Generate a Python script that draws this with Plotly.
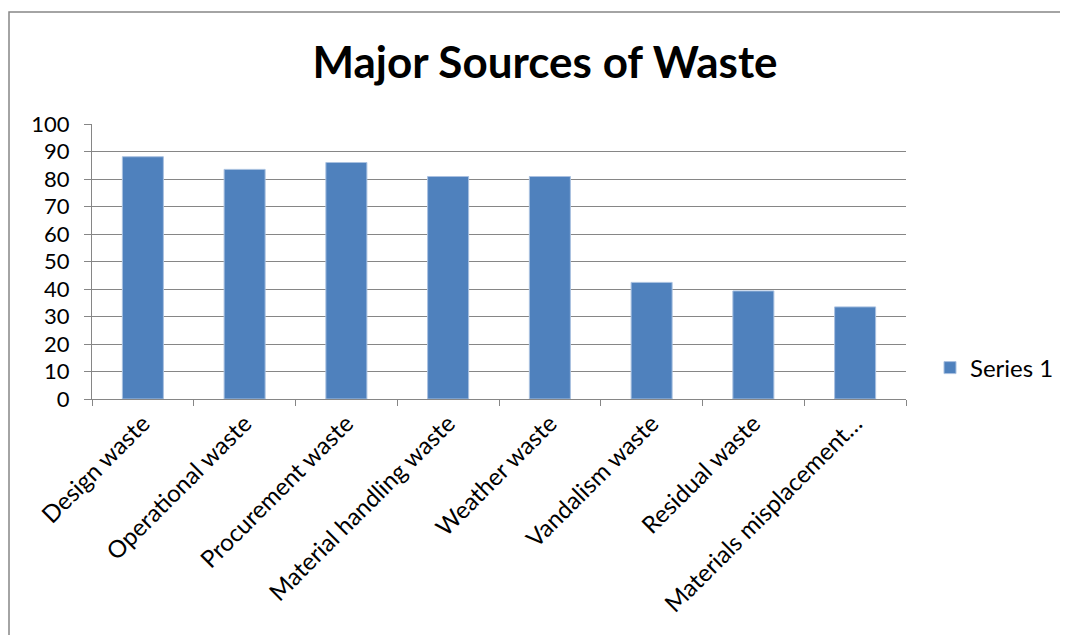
import plotly.graph_objects as go

categories = ["Design waste", "Operational waste", "Procurement waste",
              "Material handling waste", "Weather waste", "Vandalism waste",
              "Residual waste", "Materials misplacement…"]
values = [88.1, 83.5, 86.0, 80.9, 80.9, 42.4, 39.3, 33.5]
series_name = "Series 1"
y_ticks = list(range(0, 101, 10))

# the page has an 8px body margin, so positions are shifted by -8
OFF = 8
W, H = 1068, 635
L, R, T, B = 92 - OFF, 906 - OFF, 124 - OFF, 399 - OFF

fig = go.Figure()
fig.add_trace(go.Bar(
    x=categories, y=values, name=series_name,
    marker=dict(color="#4F81BD", line=dict(color="#A9C1E0", width=1)),
    showlegend=True,
))

grey = "#868686"
font_family = "Lato, 'Open Sans', sans-serif"

fig.update_layout(
    width=W, height=H,
    margin=dict(l=L, r=W - R, t=T, b=H - B, autoexpand=False),
    paper_bgcolor="white", plot_bgcolor="white",
    bargap=0.597,
    title=dict(text="<b>Major Sources of Waste</b>", x=(545 - OFF) / W, xanchor="center",
               xref="container", y=1 - (63 - OFF) / H, yref="container", yanchor="middle",
               font=dict(family=font_family, size=44, color="black")),
    font=dict(family=font_family, size=24, color="black"),
    legend=dict(x=(930 - OFF - L) / (R - L), xanchor="left", y=(B - (368 - OFF)) / (B - T),
                yanchor="middle", font=dict(size=24), bgcolor="rgba(0,0,0,0)"),
    shapes=[dict(type="rect", xref="paper", yref="paper",
                 x0=(9 - OFF - L) / (R - L), x1=(W + 20 - L) / (R - L),
                 y0=(B - (H + 20)) / (B - T), y1=(B - (12 - OFF)) / (B - T),
                 line=dict(color="#878787", width=1.5), layer="below")],
)

fig.update_xaxes(
    type="category", tickangle=-45, showgrid=False,
    showline=True, linecolor=grey, linewidth=1,
    ticks="outside", tickson="boundaries", ticklen=6, tickcolor=grey,
    tickfont=dict(size=24, color="black"),
)
fig.update_yaxes(
    range=[0, 100], tickvals=y_ticks, showgrid=True, gridcolor=grey, gridwidth=1,
    showline=True, linecolor=grey, linewidth=1,
    ticks="outside", ticklen=7, tickcolor=grey, ticklabelstandoff=10,
    tickfont=dict(size=22, color="black"), zeroline=False,
)

fig.write_html("out.html")
